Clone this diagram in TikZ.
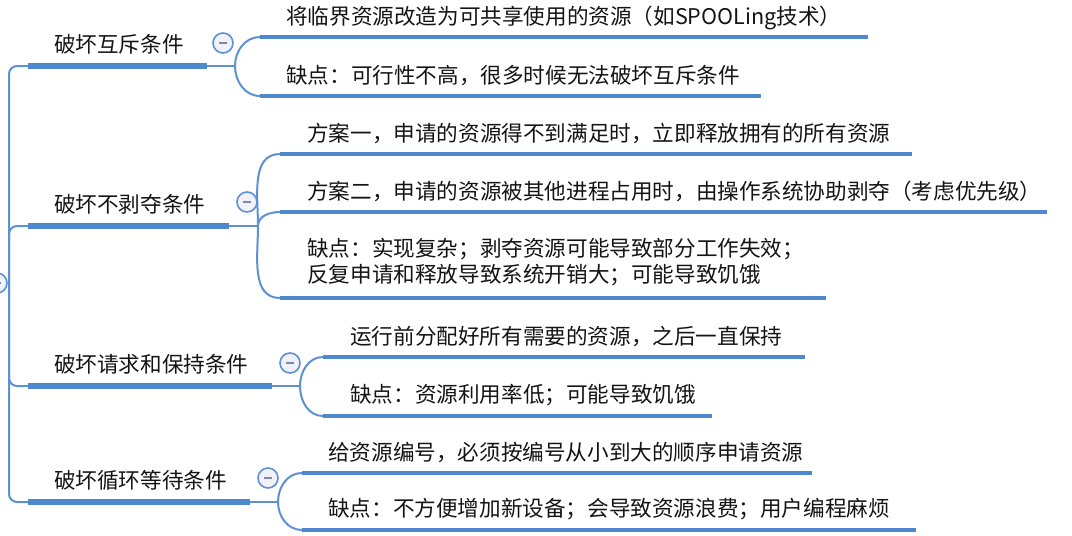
\documentclass[tikz,border=0pt]{standalone}
\usepackage{fontspec}
\setmainfont{Noto Sans CJK SC}
\definecolor{barblue}{RGB}{78,136,207}
\definecolor{lineblue}{RGB}{93,145,212}
\definecolor{togglefill}{RGB}{241,241,250}
\definecolor{minuscol}{RGB}{125,135,178}
\definecolor{txtcol}{RGB}{20,20,20}
\tikzset{
  mainbar/.style={line width=6pt, draw=barblue},
  subbar/.style={line width=4.5pt, draw=barblue},
  conn/.style={line width=2pt, draw=lineblue},
  txt/.style={anchor=base west, inner sep=0pt, text=txtcol, font=\fontsize{21.6}{26}\selectfont},
  toggle/.style={circle, draw=lineblue, fill=togglefill, line width=1.6pt, minimum size=20pt, inner sep=0pt,
    path picture={\draw[minuscol, line width=1.5pt] ([xshift=-4pt]path picture bounding box.center) -- ([xshift=4pt]path picture bounding box.center);}},
  branchup/.style={conn, out=90, in=180},
  branchdown/.style={conn, out=-90, in=180}
}
\begin{document}
\begin{tikzpicture}[x=1pt, y=-1pt]
\useasboundingbox (0,0) rectangle (1072,536);

% root
\coordinate (root) at (9,283);
\node[toggle] (rt) at (-3,283) {};
\draw[conn] (rt.east) -- (root);

% ---------- level 1 ----------
\coordinate (m1s) at (28,66);  \coordinate (m1e) at (207,66); \coordinate (b1) at (235,66);
\coordinate (m2s) at (28,226); \coordinate (m2e) at (229,226); \coordinate (b2) at (258,226);
\coordinate (m3s) at (28,386); \coordinate (m3e) at (272,386); \coordinate (b3) at (300,386);
\coordinate (m4s) at (28,502); \coordinate (m4e) at (250,502); \coordinate (b4) at (278,502);

\foreach \m in {m1s,m2s,m3s,m4s}{\draw[conn, rounded corners=8pt] (root) |- (\m);}
\foreach \i in {1,2,3,4}{
  \draw[conn] (m\i e) -- (b\i);
  \draw[mainbar] (m\i s) -- (m\i e);
}

\node[txt] (m1) at (54,52.5) {破坏互斥条件};
\node[txt] (m2) at (54,212.5) {破坏不剥夺条件};
\node[txt] (m3) at (54,372.5) {破坏请求和保持条件};
\node[txt] (m4) at (54,488.5) {破坏循环等待条件};

\node[toggle] (t1) at (223,43) {};
\node[toggle] (t2) at (247,202) {};
\node[toggle] (t3) at (290,363) {};
\node[toggle] (t4) at (268,478) {};

% ---------- children of 1 ----------
\coordinate (c11s) at (260,37);  \coordinate (c11e) at (868,37);
\coordinate (c12s) at (260,96);  \coordinate (c12e) at (761,96);
\draw[branchup] (b1) to (c11s);
\draw[branchdown] (b1) to (c12s);
\draw[subbar] (c11s) -- (c11e);
\draw[subbar] (c12s) -- (c12e);
\node[txt] (c11) at (286,24.5) {将临界资源改造为可共享使用的资源（如SPOOLing技术）};
\node[txt] (c12) at (286,83.5) {缺点：可行性不高，很多时候无法破坏互斥条件};

% ---------- children of 2 ----------
\coordinate (c21s) at (280,154); \coordinate (c21e) at (912,154);
\coordinate (c22s) at (280,212); \coordinate (c22e) at (1047,212);
\coordinate (c23s) at (280,298); \coordinate (c23e) at (826,298);
\draw[branchup] (b2) to (c21s);
\draw[branchup] (b2) to (c22s);
\draw[branchdown] (b2) to (c23s);
\draw[subbar] (c21s) -- (c21e);
\draw[subbar] (c22s) -- (c22e);
\draw[subbar] (c23s) -- (c23e);
\node[txt] (c21) at (307,141.5) {方案一，申请的资源得不到满足时，立即释放拥有的所有资源};
\node[txt] (c22) at (307,199.5) {方案二，申请的资源被其他进程占用时，由操作系统协助剥夺（考虑优先级）};
\node[txt] (c23a) at (307,256.5) {缺点：实现复杂；剥夺资源可能导致部分工作失效；};
\node[txt] (c23b) at (307,282.5) {反复申请和释放导致系统开销大；可能导致饥饿};

% ---------- children of 3 ----------
\coordinate (c31s) at (323,357); \coordinate (c31e) at (805,357);
\coordinate (c32s) at (323,416); \coordinate (c32e) at (712,416);
\draw[branchup] (b3) to (c31s);
\draw[branchdown] (b3) to (c32s);
\draw[subbar] (c31s) -- (c31e);
\draw[subbar] (c32s) -- (c32e);
\node[txt] (c31) at (350,344) {运行前分配好所有需要的资源，之后一直保持};
\node[txt] (c32) at (350,402.5) {缺点：资源利用率低；可能导致饥饿};

% ---------- children of 4 ----------
\coordinate (c41s) at (302,473); \coordinate (c41e) at (812,473);
\coordinate (c42s) at (302,530); \coordinate (c42e) at (916,530);
\draw[branchup] (b4) to (c41s);
\draw[branchdown] (b4) to (c42s);
\draw[subbar] (c41s) -- (c41e);
\draw[subbar] (c42s) -- (c42e);
\node[txt] (c41) at (328,460.5) {给资源编号，必须按编号从小到大的顺序申请资源};
\node[txt] (c42) at (328,516.5) {缺点：不方便增加新设备；会导致资源浪费；用户编程麻烦};
\end{tikzpicture}
\end{document}
